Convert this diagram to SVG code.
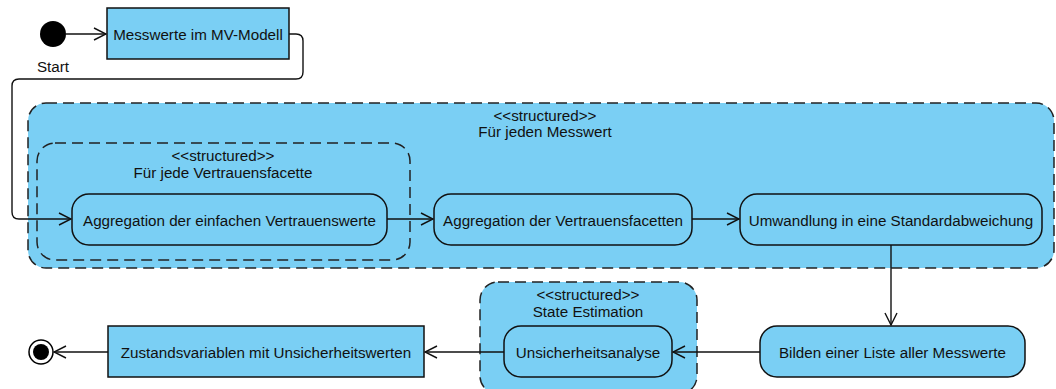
<svg xmlns="http://www.w3.org/2000/svg" width="1056" height="389" viewBox="0 0 1056 389">
  <style>
    text { font-family: "Liberation Sans", Arial, sans-serif; font-size: 15.2px; fill: #111; text-anchor: middle; dominant-baseline: central; }
    .region { fill: #7ACFF4; stroke: #222; stroke-width: 1.5; stroke-dasharray: 11 6; }
    .region-inner { fill: none; stroke: #222; stroke-width: 1.5; stroke-dasharray: 11 6; }
    .action { fill: #7ACFF4; stroke: #111; stroke-width: 1.5; }
    .edge { fill: none; stroke: #111; stroke-width: 1.4; marker-end: url(#open); }
  </style>
  <defs>
    <marker id="open" markerWidth="14" markerHeight="14" refX="13" refY="7" orient="auto" markerUnits="userSpaceOnUse">
      <path d="M1,1 L13,7 L1,13" fill="none" stroke="#111" stroke-width="1.4"/>
    </marker>
  </defs>

  <!-- structured regions -->
  <g id="region-messwert">
    <rect class="region" x="28" y="103" width="1026" height="165" rx="18"/>
    <text x="545" y="115">&lt;&lt;structured&gt;&gt;</text>
    <text x="545" y="131">Für jeden Messwert</text>
  </g>
  <g id="region-facette">
    <rect class="region-inner" x="37" y="143" width="373" height="117" rx="18"/>
    <text x="223" y="155">&lt;&lt;structured&gt;&gt;</text>
    <text x="223" y="172">Für jede Vertrauensfacette</text>
  </g>
  <g id="region-state">
    <rect class="region" x="480" y="282" width="217" height="112" rx="18"/>
    <text x="588" y="294">&lt;&lt;structured&gt;&gt;</text>
    <text x="588" y="311">State Estimation</text>
  </g>

  <!-- start and end -->
  <g id="start">
    <circle cx="53" cy="34" r="13" fill="#000"/>
    <text x="53" y="66">Start</text>
  </g>
  <g id="end">
    <circle cx="41" cy="352" r="12" fill="#fff" stroke="#000" stroke-width="1.5"/>
    <circle cx="41" cy="352" r="8" fill="#000"/>
  </g>

  <!-- actions -->
  <g id="messwerte">
    <rect class="action" x="107" y="8" width="182" height="51"/>
    <text x="198" y="34">Messwerte im MV-Modell</text>
  </g>
  <g id="agg-einfach">
    <rect class="action" x="72" y="194" width="315" height="51" rx="17"/>
    <text x="229.5" y="220">Aggregation der einfachen Vertrauenswerte</text>
  </g>
  <g id="agg-facetten">
    <rect class="action" x="434" y="194" width="258" height="51" rx="17"/>
    <text x="563" y="220">Aggregation der Vertrauensfacetten</text>
  </g>
  <g id="umwandlung">
    <rect class="action" x="740" y="194" width="302" height="51" rx="17"/>
    <text x="891" y="220">Umwandlung in eine Standardabweichung</text>
  </g>
  <g id="liste">
    <rect class="action" x="760" y="326" width="265" height="51" rx="17"/>
    <text x="892.5" y="352">Bilden einer Liste aller Messwerte</text>
  </g>
  <g id="unsicherheit">
    <rect class="action" x="504" y="326" width="168" height="51" rx="17"/>
    <text x="588" y="352">Unsicherheitsanalyse</text>
  </g>
  <g id="zustand">
    <rect class="action" x="108" y="326" width="316" height="51"/>
    <text x="266" y="352">Zustandsvariablen mit Unsicherheitswerten</text>
  </g>

  <!-- connectors -->
  <g id="connectors">
    <path class="edge" d="M66,34 L106,34"/>
    <path class="edge" d="M289,34 L296,34 Q303,34 303,41 L303,72 Q303,79 296,79 L19,79 Q12,79 12,86 L12,212 Q12,219 19,219 L71,219"/>
    <path class="edge" d="M387,219 L433,219"/>
    <path class="edge" d="M692,219 L739,219"/>
    <path class="edge" d="M891,245 L891,325"/>
    <path class="edge" d="M760,352 L673,352"/>
    <path class="edge" d="M504,352 L425,352"/>
    <path class="edge" d="M108,352 L54,352"/>
  </g>
</svg>
